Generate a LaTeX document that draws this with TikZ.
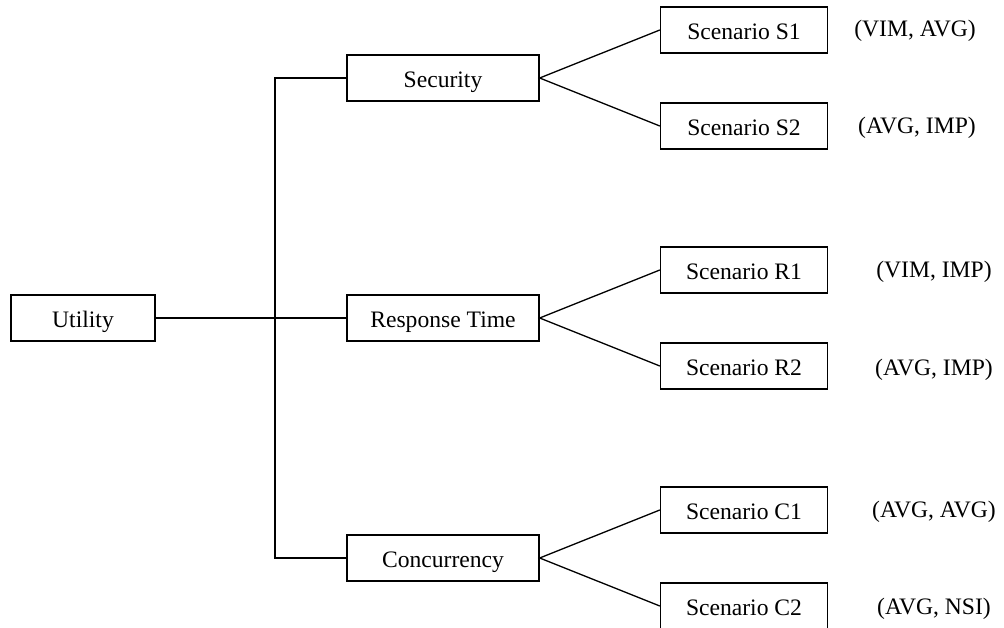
\documentclass[tikz,border=0pt]{standalone}
\usepackage{fontspec}
\setmainfont{Liberation Serif}
\begin{document}
\begin{tikzpicture}[x=1pt,y=-1pt,line width=1.3pt,
  txt/.style={font=\fontsize{23.6}{28}\selectfont},
  box/.style={txt,draw,rectangle,inner sep=0pt,minimum height=46pt,text height=19.5pt,text depth=0pt},
  rootbox/.style={box,minimum width=144pt},
  midbox/.style={box,minimum width=192pt},
  scenbox/.style={box,minimum width=167pt},
  rating/.style={txt,inner sep=0pt}]
\useasboundingbox (0,0) rectangle (1004,628);
\node[rootbox] (util) at (83,318) {Utility};
\node[midbox] (sec) at (443,78) {Security};
\node[midbox] (resp) at (443,318) {Response Time};
\node[midbox] (conc) at (443,558) {Concurrency};
\node[scenbox] (s1) at (744,30) {Scenario S1};
\node[scenbox] (s2) at (744,126) {Scenario S2};
\node[scenbox] (r1) at (744,270) {Scenario R1};
\node[scenbox] (r2) at (744,366) {Scenario R2};
\node[scenbox] (c1) at (744,510) {Scenario C1};
\node[scenbox] (c2) at (744,606) {Scenario C2};
\node[rating] (l1) at (915,31) {(VIM, AVG)};
\node[rating] (l2) at (917,128) {(AVG, IMP)};
\node[rating] (l3) at (934,272) {(VIM, IMP)};
\node[rating] (l4) at (934,370) {(AVG, IMP)};
\node[rating] (l5) at (934,512) {(AVG, AVG)};
\node[rating] (l6) at (934,609) {(AVG, NSI)};
\coordinate (trunk) at (275,0);
\draw (sec.west) -| (trunk |- conc.west) -- (conc.west);
\draw (util.east) -- (resp.west);
\draw (s1.west) -- (sec.east) -- (s2.west);
\draw (r1.west) -- (resp.east) -- (r2.west);
\draw (c1.west) -- (conc.east) -- (c2.west);
\end{tikzpicture}
\end{document}
